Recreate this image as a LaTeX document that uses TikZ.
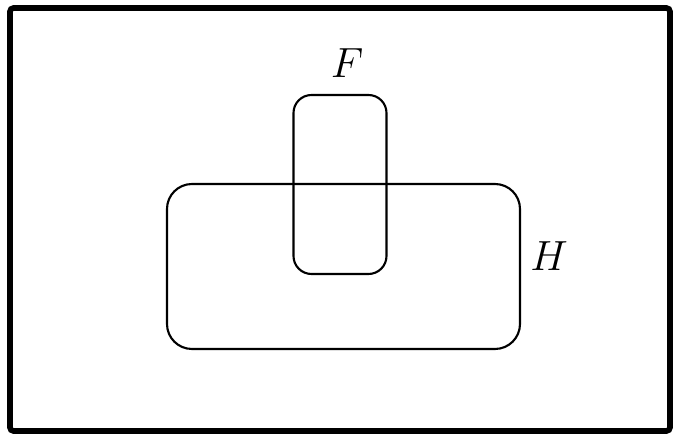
\documentclass[tikz,border=0pt]{standalone}
\usepackage{amsmath}
\usepackage{tikz}
\usetikzlibrary{positioning}

\begin{document}
\begin{tikzpicture}[
    every node/.style={font=\fontsize{13}{15}\selectfont},
    setbox/.style={rectangle, draw=black, line width=0.6pt, inner sep=0pt},
    frame/.style={draw=black, line width=1.6pt, rounded corners=1pt},
]

\useasboundingbox (0,0) rectangle (6.77,-4.36);
\draw[frame] (0.10,-0.08) rectangle (6.70,-4.31);

\node[setbox, rounded corners=0.25cm, minimum width=3.53cm, minimum height=1.65cm] (hset) at (3.435,-2.665) {};
\node[setbox, rounded corners=0.18cm, minimum width=0.93cm, minimum height=1.79cm] (fset) at (3.40,-1.845) {};

\node[above=0.04cm of fset, xshift=0.07cm] (flabel) {$F$};
\node[right=-0.03cm of hset, yshift=0.10cm] (hlabel) {$H$};

\end{tikzpicture}
\end{document}
